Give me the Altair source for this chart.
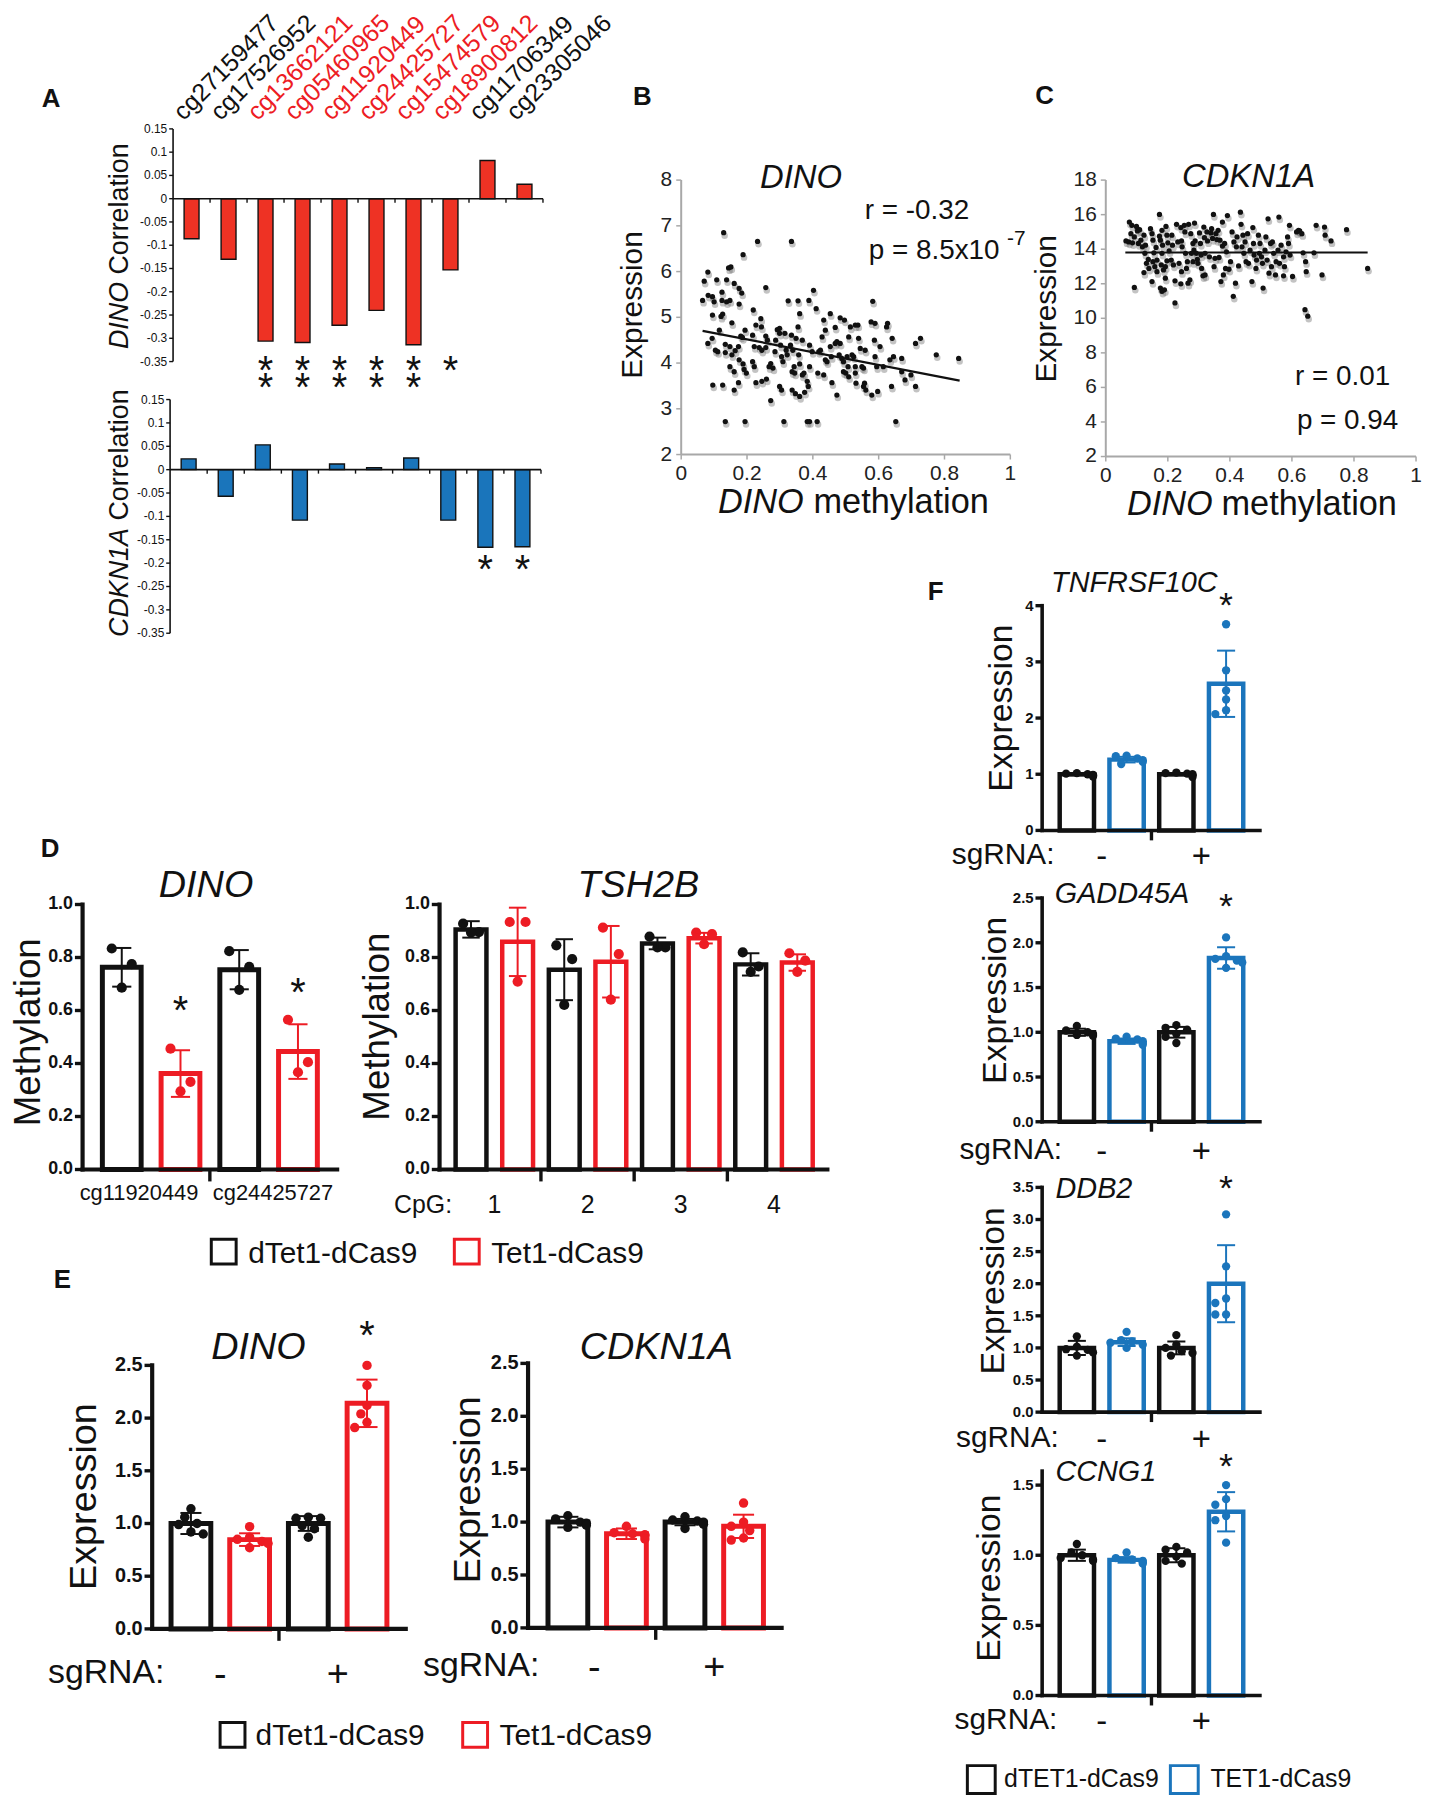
import altair as alt
import pandas as pd

# ------------------------------------------------------------------ canvas
W, H = 1422, 1792          # plot area (page minus 8px margin)
OX, OY = 8, 8              # page offset of the plot origin
SANS = "Liberation Sans, Arial, Helvetica, sans-serif"
INK = "#111111"
RED = "#ED1C24"
BLUE = "#1B75BC"
A_RED = "#EE3224"
A_BLUE = "#1A75BB"
GRAY_AX = "#A8A8A8"

# ------------------------------------------------------------------ data: panel A
probes = ["cg27159477", "cg17526952", "cg13662121", "cg05460965", "cg11920449",
          "cg24425727", "cg15474579", "cg18900812", "cg11706349", "cg23305046"]
probe_highlight = [False, False, True, True, True, True, True, True, False, False]
dino_corr = [-0.086, -0.130, -0.306, -0.309, -0.272, -0.240, -0.314, -0.153, 0.082, 0.031]
dino_corr_stars = [0, 0, 2, 2, 2, 2, 2, 1, 0, 0]
cdkn1a_corr = [0.023, -0.057, 0.053, -0.108, 0.012, 0.004, 0.025, -0.108, -0.166, -0.165]
cdkn1a_corr_stars = [0, 0, 0, 0, 0, 0, 0, 0, 1, 1]
corr_ticks = [0.15, 0.1, 0.05, 0, -0.05, -0.1, -0.15, -0.2, -0.25, -0.3, -0.35]

# ------------------------------------------------------------------ data: panel B (DINO methylation, DINO expression)
b_points = [
    (0.129, 6.85), (0.232, 6.66), (0.335, 6.66), (0.188, 6.37), (0.081, 5.99), (0.070, 5.79), (0.108, 5.82), (0.138, 5.82), (0.144, 6.08), (0.151, 6.10),
    (0.065, 5.37), (0.082, 5.48), (0.095, 5.45), (0.100, 5.34), (0.124, 5.55), (0.124, 5.37), (0.138, 5.34), (0.148, 5.37), (0.161, 5.74), (0.176, 5.63),
    (0.184, 5.53), (0.176, 5.29), (0.257, 5.65), (0.325, 5.36), (0.360, 5.08), (0.355, 5.36), (0.388, 5.37), (0.402, 5.59), (0.410, 5.19), (0.582, 5.35),
    (0.095, 5.05), (0.121, 5.02), (0.126, 5.07), (0.154, 4.88), (0.219, 5.16), (0.242, 4.97), (0.244, 4.79), (0.227, 4.83), (0.453, 5.08), (0.483, 4.99),
    (0.496, 4.94), (0.529, 4.83), (0.537, 4.83), (0.577, 4.90), (0.589, 4.87), (0.624, 4.79), (0.627, 4.87), (0.433, 4.94), (0.468, 4.78), (0.116, 4.72),
    (0.081, 4.43), (0.094, 4.54), (0.111, 4.25), (0.104, 4.28), (0.134, 4.41), (0.134, 4.23), (0.148, 4.36), (0.154, 4.18), (0.148, 3.92), (0.161, 3.81),
    (0.164, 4.27), (0.174, 4.36), (0.181, 4.59), (0.186, 4.56), (0.194, 4.72), (0.176, 4.07), (0.188, 3.98), (0.191, 3.86), (0.198, 3.78), (0.174, 3.57),
    (0.161, 3.41), (0.096, 3.52), (0.126, 3.52), (0.217, 4.61), (0.222, 4.36), (0.217, 4.03), (0.222, 3.92), (0.227, 3.57), (0.237, 4.34), (0.245, 4.28),
    (0.257, 4.59), (0.262, 4.50), (0.257, 4.34), (0.245, 3.60), (0.259, 3.65), (0.267, 3.92), (0.272, 3.99), (0.279, 3.89), (0.272, 3.18), (0.285, 4.25),
    (0.287, 4.50), (0.292, 4.73), (0.299, 4.76), (0.299, 4.65), (0.302, 4.39), (0.305, 4.14), (0.309, 4.03), (0.315, 4.65), (0.319, 4.28), (0.322, 4.18),
    (0.332, 4.39), (0.335, 4.61), (0.339, 4.28), (0.343, 3.92), (0.299, 3.49), (0.305, 3.41), (0.337, 3.81), (0.345, 3.78), (0.355, 4.79), (0.349, 4.54),
    (0.357, 4.18), (0.360, 3.98), (0.368, 3.74), (0.373, 3.78), (0.337, 3.41), (0.347, 3.33), (0.360, 3.27), (0.375, 3.36), (0.383, 3.60), (0.390, 3.92),
    (0.390, 4.39), (0.368, 4.50), (0.386, 3.49), (0.398, 4.25), (0.415, 3.78), (0.418, 4.25), (0.423, 4.28), (0.433, 3.74), (0.428, 4.57), (0.438, 4.72),
    (0.438, 4.07), (0.443, 4.03), (0.453, 4.36), (0.456, 4.14), (0.458, 3.57), (0.473, 3.30), (0.468, 4.43), (0.473, 4.47), (0.483, 4.43), (0.480, 4.18),
    (0.488, 4.10), (0.493, 4.03), (0.493, 3.81), (0.500, 3.78), (0.504, 4.14), (0.507, 3.92), (0.509, 3.70), (0.509, 4.57), (0.514, 4.79), (0.519, 4.18),
    (0.524, 4.14), (0.529, 3.92), (0.529, 3.78), (0.531, 3.56), (0.539, 4.54), (0.544, 4.32), (0.549, 3.92), (0.554, 3.89), (0.554, 3.49), (0.559, 4.28),
    (0.557, 3.56), (0.561, 3.41), (0.579, 3.30), (0.587, 4.50), (0.589, 4.14), (0.594, 3.92), (0.597, 3.38), (0.604, 4.36), (0.614, 3.92), (0.641, 4.54),
    (0.634, 4.07), (0.645, 4.14), (0.639, 3.49), (0.670, 4.10), (0.670, 3.81), (0.680, 3.63), (0.698, 3.74), (0.712, 3.49), (0.712, 4.43), (0.727, 4.54),
    (0.775, 4.18), (0.843, 4.10), (0.134, 2.72), (0.194, 2.72), (0.312, 2.72), (0.383, 2.72), (0.390, 2.72), (0.413, 2.72), (0.652, 2.72),
]
b_fit_x = [0.065, 0.846]
b_fit_y = [4.705, 3.617]
b_xticks = [0, 0.2, 0.4, 0.6, 0.8, 1]
b_yticks = [2, 3, 4, 5, 6, 7, 8]

# ------------------------------------------------------------------ data: panel C (DINO methylation, CDKN1A expression)
c_points = [
    (0.065, 14.48), (0.076, 15.57), (0.084, 15.38), (0.081, 14.90), (0.074, 14.42), (0.086, 14.37), (0.092, 14.71), (0.099, 15.32), (0.102, 15.06), (0.109, 15.13),
    (0.092, 11.79), (0.105, 14.33), (0.113, 14.52), (0.118, 14.14), (0.123, 14.81), (0.128, 14.23), (0.126, 13.76), (0.131, 13.18), (0.137, 13.41), (0.123, 12.65),
    (0.144, 15.19), (0.149, 14.90), (0.152, 14.52), (0.139, 12.89), (0.152, 13.28), (0.158, 12.99), (0.155, 13.79), (0.162, 14.10), (0.165, 13.37), (0.165, 12.70),
    (0.149, 12.13), (0.173, 14.75), (0.176, 14.52), (0.173, 16.01), (0.181, 15.09), (0.183, 14.23), (0.181, 13.76), (0.179, 13.09), (0.186, 12.80), (0.176, 11.75),
    (0.189, 11.65), (0.181, 11.56), (0.192, 12.32), (0.194, 15.32), (0.197, 14.81), (0.200, 14.37), (0.204, 13.91), (0.197, 13.33), (0.192, 12.99), (0.213, 14.81),
    (0.215, 14.23), (0.211, 13.37), (0.218, 13.09), (0.223, 10.89), (0.228, 15.44), (0.232, 14.42), (0.236, 13.18), (0.223, 12.17), (0.242, 15.25), (0.244, 14.48),
    (0.246, 14.14), (0.244, 12.70), (0.242, 12.00), (0.253, 15.38), (0.255, 15.00), (0.257, 13.76), (0.263, 13.28), (0.260, 12.89), (0.265, 12.03), (0.267, 15.44),
    (0.274, 14.90), (0.276, 13.76), (0.281, 14.33), (0.284, 13.95), (0.281, 13.28), (0.271, 12.23), (0.286, 15.51), (0.288, 14.48), (0.292, 13.76), (0.295, 13.41),
    (0.297, 13.18), (0.302, 14.94), (0.305, 14.33), (0.307, 13.66), (0.309, 12.89), (0.316, 15.28), (0.318, 14.67), (0.320, 13.76), (0.313, 12.46), (0.320, 12.51),
    (0.326, 15.00), (0.328, 14.48), (0.334, 13.56), (0.339, 14.94), (0.341, 15.19), (0.344, 14.62), (0.347, 16.01), (0.349, 12.99), (0.352, 13.47), (0.355, 14.90),
    (0.358, 14.56), (0.362, 15.09), (0.365, 13.52), (0.368, 14.52), (0.371, 12.13), (0.376, 14.18), (0.376, 15.57), (0.379, 12.51), (0.383, 14.33), (0.386, 12.89),
    (0.389, 13.85), (0.392, 15.95), (0.397, 12.84), (0.402, 13.28), (0.407, 15.00), (0.413, 14.42), (0.411, 11.27), (0.418, 12.03), (0.421, 14.14), (0.423, 14.71),
    (0.428, 13.03), (0.434, 16.14), (0.436, 15.44), (0.439, 14.14), (0.442, 14.81), (0.445, 13.76), (0.449, 14.42), (0.452, 13.28), (0.457, 14.90), (0.460, 13.18),
    (0.465, 13.95), (0.471, 12.13), (0.474, 15.25), (0.476, 14.33), (0.478, 13.66), (0.484, 12.89), (0.486, 13.37), (0.492, 14.81), (0.495, 13.76), (0.497, 14.33),
    (0.502, 13.56), (0.505, 13.18), (0.507, 11.75), (0.513, 13.95), (0.516, 14.71), (0.520, 13.37), (0.523, 15.76), (0.526, 12.61), (0.531, 14.33), (0.534, 12.99),
    (0.537, 14.42), (0.541, 13.76), (0.547, 12.51), (0.549, 13.28), (0.555, 13.95), (0.558, 15.86), (0.560, 13.18), (0.565, 14.23), (0.573, 13.56), (0.576, 12.99),
    (0.581, 13.85), (0.586, 14.71), (0.589, 14.33), (0.592, 15.38), (0.594, 13.66), (0.573, 12.46), (0.602, 12.42), (0.615, 15.00), (0.621, 15.09), (0.625, 15.06),
    (0.632, 14.90), (0.636, 13.79), (0.644, 13.28), (0.646, 12.70), (0.642, 10.50), (0.651, 10.12), (0.671, 13.79), (0.678, 15.38), (0.697, 12.51), (0.705, 15.28),
    (0.707, 14.81), (0.726, 14.48), (0.776, 15.13), (0.844, 12.89),
]
c_fit_x = [0.063, 0.844]
c_fit_y = [13.81, 13.81]
c_yticks = [2, 4, 6, 8, 10, 12, 14, 16, 18]

# ------------------------------------------------------------------ data: panel D (methylation)
d_dino_sites = ["cg11920449", "cg24425727"]
d_dino_cond = ["dTet1-dCas9", "Tet1-dCas9", "dTet1-dCas9", "Tet1-dCas9"]
d_dino_mean = [0.763, 0.362, 0.754, 0.445]
d_dino_sd = [0.073, 0.088, 0.074, 0.103]
d_dino_dots = [[0.834, 0.775, 0.686], [0.456, 0.331, 0.295], [0.824, 0.765, 0.678], [0.565, 0.405, 0.367]]

d_tsh_cpg = ["1", "2", "3", "4"]
d_tsh_cond = ["dTet1-dCas9", "Tet1-dCas9"] * 4
d_tsh_mean = [0.906, 0.859, 0.754, 0.784, 0.853, 0.873, 0.774, 0.781]
d_tsh_sd = [0.031, 0.129, 0.115, 0.135, 0.022, 0.020, 0.042, 0.031]
d_tsh_dots = [[0.928, 0.896, 0.894], [0.934, 0.934, 0.709], [0.846, 0.794, 0.621], [0.913, 0.813, 0.641],
              [0.879, 0.838, 0.838], [0.894, 0.888, 0.850], [0.819, 0.766, 0.746], [0.816, 0.788, 0.746]]
d_yticks = [0, 0.2, 0.4, 0.6, 0.8, 1.0]

# ------------------------------------------------------------------ data: panel E (expression)
sgrna = ["-", "+"]
e_cond = ["dTet1-dCas9", "Tet1-dCas9", "dTet1-dCas9", "Tet1-dCas9"]
e_dino_mean = [1.0, 0.847, 1.0, 2.14]
e_dino_sd = [0.10, 0.06, 0.07, 0.225]
e_dino_dots = [[1.14, 1.06, 1.00, 0.99, 0.92, 0.90], [0.97, 0.87, 0.85, 0.83, 0.81, 0.77],
               [1.06, 1.05, 1.05, 0.98, 0.95, 0.87], [2.50, 2.31, 2.12, 2.04, 1.96, 1.91]]
e_cdk_mean = [1.0, 0.89, 1.0, 0.96]
e_cdk_sd = [0.05, 0.05, 0.03, 0.11]
e_cdk_dots = [[1.06, 1.03, 1.00, 0.99, 0.97, 0.95], [0.96, 0.90, 0.89, 0.88, 0.87, 0.84],
              [1.05, 1.02, 1.01, 1.00, 0.98, 0.94], [1.18, 1.00, 0.96, 0.92, 0.85, 0.83]]
e_yticks = [0, 0.5, 1.0, 1.5, 2.0, 2.5]

# ------------------------------------------------------------------ data: panel F (expression)
f_cond = ["dTET1-dCas9", "TET1-dCas9", "dTET1-dCas9", "TET1-dCas9"]
f_genes = ["TNFRSF10C", "GADD45A", "DDB2", "CCNG1"]
f_mean = [[1.0, 1.26, 1.0, 2.61], [1.0, 0.90, 1.0, 1.83], [1.0, 1.09, 1.0, 2.0], [1.0, 0.967, 1.0, 1.31]]
f_sd = [[0.02, 0.05, 0.02, 0.59], [0.04, 0.03, 0.06, 0.12], [0.11, 0.06, 0.10, 0.60], [0.04, 0.02, 0.05, 0.14]]
f_dots = [
    [[1.02, 1.01, 1.00, 0.99, 0.98, 0.96], [1.33, 1.32, 1.28, 1.25, 1.22, 1.18],
     [1.03, 1.02, 1.01, 1.00, 0.98, 0.95], [3.67, 2.85, 2.49, 2.33, 2.14, 2.07]],
    [[1.07, 1.02, 1.00, 0.98, 0.97, 0.96], [0.95, 0.93, 0.92, 0.90, 0.88, 0.86],
     [1.08, 1.05, 1.03, 0.98, 0.95, 0.88], [2.06, 1.85, 1.82, 1.80, 1.78, 1.72]],
    [[1.18, 1.02, 0.98, 0.97, 0.93, 0.88], [1.25, 1.12, 1.10, 1.08, 1.05, 1.00],
     [1.20, 1.05, 1.00, 0.95, 0.92, 0.88], [3.08, 2.27, 1.77, 1.70, 1.52, 1.52]],
    [[1.08, 1.02, 1.00, 0.98, 0.97, 0.96], [1.02, 0.98, 0.97, 0.96, 0.95, 0.94],
     [1.06, 1.04, 1.02, 0.99, 0.96, 0.94], [1.50, 1.40, 1.36, 1.28, 1.25, 1.09]],
]
f_yticks = [[0, 1, 2, 3, 4], [0, 0.5, 1.0, 1.5, 2.0, 2.5], [0, 0.5, 1.0, 1.5, 2.0, 2.5, 3.0, 3.5], [0, 0.5, 1.0, 1.5]]

COND_COLOR = {"dTet1-dCas9": INK, "Tet1-dCas9": RED, "dTET1-dCas9": INK, "TET1-dCas9": BLUE}

# ------------------------------------------------------------------ layout: scale domains and page-pixel ranges
G = {
    "A1": ([0, 10], [169, 551], [-0.35, 0.15], [358.5, 124.5]),
    "A2": ([0, 10], [166, 549], [-0.35, 0.15], [631.7, 396.7]),
    "B": ([0, 1], [685, 1016], [2, 8], [452, 176]),
    "C": ([0, 1], [1112, 1424], [2, 18], [454, 176]),
    "D1": ([-0.667, 3.667], [78, 344], [0, 1], [1171, 904.5]),
    "D2": ([-0.675, 7.645], [437, 837], [0, 1], [1171, 904.5]),
    "E1": ([-0.66, 3.66], [148, 413], [0, 2.5], [1633, 1368]),
    "E2": ([-0.68, 3.65], [526, 791], [0, 2.5], [1632, 1366]),
    "F1": ([-0.6975, 3.68], [1043, 1272], [0, 4], [830, 604]),
    "F2": ([-0.6975, 3.68], [1043, 1272], [0, 2.5], [1123, 898]),
    "F3": ([-0.6975, 3.68], [1043, 1272], [0, 3.5], [1415, 1189]),
    "F4": ([-0.6975, 3.68], [1043, 1272], [0, 1.6], [1700, 1474.3]),
}


def xs(p):
    xd, xr, yd, yr = G[p]
    return alt.Scale(domain=xd, range=[xr[0] - OX, xr[1] - OX], nice=False, zero=False)


def ys(p):
    xd, xr, yd, yr = G[p]
    return alt.Scale(domain=yd, range=[yr[0] - OY, yr[1] - OY], nice=False, zero=False)


def ppu(p):
    xd, xr, yd, yr = G[p]
    return (xr[1] - xr[0]) / (xd[1] - xd[0]), abs(yr[0] - yr[1]) / (yd[1] - yd[0])


def XQ(p, f):
    return alt.X(f, scale=xs(p), axis=None)


def YQ(p, f):
    return alt.Y(f, scale=ys(p), axis=None)


def tl(p, rows, **props):
    df = pd.DataFrame(rows, columns=["x", "y", "t"])
    mp = dict(font=SANS, color=INK, baseline="alphabetic", align="center")
    mp.update(props)
    return alt.Chart(df).mark_text(**mp).encode(x=XQ(p, "x:Q"), y=YQ(p, "y:Q"), text="t:N")


def stars(p, rows, size=40):
    # rows give the glyph centre of each asterisk
    return tl(p, rows, fontSize=size, dy=round(0.58 * size))


# ------------------------------------------------------------------ axes drawn from tick arrays through the panel scales
def axis_layers(p, st, yvals, ylabs, xvals=(), xlabs=None, base=None, xtick=None):
    xd, xr, yd, yr = G[p]
    ppx, ppy = ppu(p)
    base = yd[0] if base is None else base
    x0 = xd[0]
    xtick = st["tick"] if xtick is None else xtick
    lay = []
    ydom = pd.DataFrame({"x": [x0], "y": [yd[0]], "y2": [yd[1]]})
    xdom = pd.DataFrame({"x": [xd[0]], "x2": [xd[1]], "y": [base]})
    lay.append(alt.Chart(ydom).mark_rule(color=st["color"], strokeWidth=st["width"], strokeCap=st["cap"]).encode(
        x=XQ(p, "x:Q"), y=YQ(p, "y:Q"), y2="y2:Q"))
    lay.append(alt.Chart(xdom).mark_rule(color=st["color"], strokeWidth=st["width"], strokeCap=st["cap"]).encode(
        x=XQ(p, "x:Q"), x2="x2:Q", y=YQ(p, "y:Q")))
    yt = pd.DataFrame({"x": [x0] * len(yvals), "x2": [x0 - st["tick"] / ppx] * len(yvals), "y": list(yvals)})
    lay.append(alt.Chart(yt).mark_rule(color=st["color"], strokeWidth=st["twidth"]).encode(
        x=XQ(p, "x:Q"), x2="x2:Q", y=YQ(p, "y:Q")))
    yl = pd.DataFrame({"x": [x0 - (st["tick"] + st["pad"]) / ppx] * len(yvals), "y": list(yvals), "t": ylabs})
    lay.append(alt.Chart(yl).mark_text(align="right", baseline="middle", font=SANS, fontSize=st["fs"],
                                       fontWeight=st["fw"], color=st["lc"]).encode(
        x=XQ(p, "x:Q"), y=YQ(p, "y:Q"), text="t:N"))
    if len(xvals):
        xt = pd.DataFrame({"x": list(xvals), "y": [base] * len(xvals), "y2": [base - xtick / ppy] * len(xvals)})
        lay.append(alt.Chart(xt).mark_rule(color=st["color"], strokeWidth=st["twidth"]).encode(
            x=XQ(p, "x:Q"), y=YQ(p, "y:Q"), y2="y2:Q"))
    if xlabs is not None:
        xl = pd.DataFrame({"x": list(xvals), "y": [base - (xtick + st["pad"]) / ppy] * len(xvals), "t": xlabs})
        lay.append(alt.Chart(xl).mark_text(align="center", baseline="top", font=SANS, fontSize=st["fs"],
                                           fontWeight=st["fw"], color=st["lc"]).encode(
            x=XQ(p, "x:Q"), y=YQ(p, "y:Q"), text="t:N"))
    return lay


ST_A = dict(color=INK, width=1.6, twidth=1.4, tick=4, pad=2, fs=12, fw="normal", lc=INK, cap="butt")
ST_S = dict(color=GRAY_AX, width=2, twidth=1.5, tick=5, pad=4, fs=21, fw="normal", lc="#222222", cap="butt")


def st_bar(fs, width=4.2, tick=8):
    return dict(color=INK, width=width, twidth=3.4, tick=tick, pad=2, fs=fs, fw="bold", lc=INK, cap="square")


def fmt1(v):
    return "%.1f" % v


# ------------------------------------------------------------------ bar + dot panels
def swarm_offsets(vals, ppx, ppy, diam):
    order = sorted(range(len(vals)), key=lambda i: -vals[i])
    placed, offs = [], [0.0] * len(vals)
    for i in order:
        yp = vals[i] * ppy
        xp = 0.0
        for k in [0, -1, 1, -2, 2, -3, 3]:
            xp = k * diam * 0.6
            if all((xp - a) ** 2 + (yp - b) ** 2 >= (0.9 * diam) ** 2 for a, b in placed):
                break
        placed.append((xp, yp))
        offs[i] = xp / ppx
    return offs


def bar_layers(p, means, sds, dots, conds, bar_w, stroke_w, dot_size, cap_px, mode):
    ppx, ppy = ppu(p)
    n = len(means)
    cols = [COND_COLOR[c] for c in conds]
    bars = pd.DataFrame({"pos": list(range(n)), "m": means,
                         "lo": [m - s for m, s in zip(means, sds)],
                         "hi": [m + s for m, s in zip(means, sds)], "col": cols})
    hw = cap_px / 2 / ppx
    bars["cl"] = bars["pos"] - hw
    bars["cr"] = bars["pos"] + hw
    rows = []
    diam = (dot_size / 3.1416) ** 0.5 * 2
    for i, vals in enumerate(dots):
        if mode == "three":
            order = sorted(range(len(vals)), key=lambda k: -vals[k])
            pattern = [-0.17, 0.17, 0.0]
            offs = [0.0] * len(vals)
            for r, k in enumerate(order):
                offs[k] = pattern[r % 3]
        else:
            offs = swarm_offsets(vals, ppx, ppy, diam)
        for v, o in zip(vals, offs):
            rows.append({"xp": i + o, "v": v, "col": cols[i]})
    dd = pd.DataFrame(rows)
    colr = alt.Color("col:N", scale=None)
    bar = alt.Chart(bars).mark_bar(width=bar_w, fill="white", strokeWidth=stroke_w, orient="vertical").encode(
        x=XQ(p, "pos:Q"), y=YQ(p, "m:Q"), y2=alt.datum(0), stroke=alt.Stroke("col:N", scale=None))
    dot = alt.Chart(dd).mark_circle(size=dot_size, opacity=1).encode(x=XQ(p, "xp:Q"), y=YQ(p, "v:Q"), color=colr)
    err = alt.Chart(bars).mark_rule(strokeWidth=2).encode(x=XQ(p, "pos:Q"), y=YQ(p, "lo:Q"), y2="hi:Q", color=colr)
    cap_hi = alt.Chart(bars).mark_rule(strokeWidth=2).encode(x=XQ(p, "cl:Q"), x2="cr:Q", y=YQ(p, "hi:Q"), color=colr)
    cap_lo = alt.Chart(bars).mark_rule(strokeWidth=2).encode(x=XQ(p, "cl:Q"), x2="cr:Q", y=YQ(p, "lo:Q"), color=colr)
    return [bar, dot, err, cap_hi, cap_lo]


def legend_layers(p, boxes, texts, colors, box_size, font_size):
    bdf = pd.DataFrame({"x": [b[0] for b in boxes], "y": [b[1] for b in boxes], "col": colors})
    box = alt.Chart(bdf).mark_point(shape="square", filled=False, size=box_size ** 2, strokeWidth=3, opacity=1).encode(
        x=XQ(p, "x:Q"), y=YQ(p, "y:Q"), color=alt.Color("col:N", scale=None))
    return [box, tl(p, texts, fontSize=font_size, align="left")]


# ================================================================== Panel A
def corr_panel(p, vals, star_counts, fill, star_y):
    df = pd.DataFrame({"pos": [i + 0.5 for i in range(len(vals))], "v": vals})
    bar = alt.Chart(df).mark_bar(width=15, fill=fill, stroke=INK, strokeWidth=1.4, orient="vertical").encode(
        x=XQ(p, "pos:Q"), y=YQ(p, "v:Q"), y2=alt.datum(0))
    lay = [bar]
    lay += axis_layers(p, ST_A, corr_ticks, [str(v) for v in corr_ticks],
                       xvals=list(range(1, 11)), base=0)
    srows = []
    for i, s in enumerate(star_counts):
        for k in range(s):
            srows.append((i + 0.5, star_y[k], "*"))
    if srows:
        lay.append(stars(p, srows))
    return lay


# glyph centres of asterisk rows (data units)
a1 = corr_panel("A1", dino_corr, dino_corr_stars, A_RED, [-0.349, -0.385])
lab_red = [(i + 0.28, 0.166, t) for i, (t, h) in enumerate(zip(probes, probe_highlight)) if h]
lab_blk = [(i + 0.28, 0.166, t) for i, (t, h) in enumerate(zip(probes, probe_highlight)) if not h]
a1 += [
    tl("A1", lab_red, fontSize=25, angle=315, align="left", color=RED),
    tl("A1", lab_blk, fontSize=25, angle=315, align="left"),
    tl("A1", [(-1.44, -0.323, "DINO")], fontSize=27, angle=270, align="left", baseline="middle", fontStyle="italic"),
    tl("A1", [(-1.44, -0.163, "Correlation")], fontSize=27, angle=270, align="left", baseline="middle"),
    tl("A1", [(-3.30, 0.198, "A")], fontSize=26, fontWeight="bold"),
]
a2 = corr_panel("A2", cdkn1a_corr, cdkn1a_corr_stars, A_BLUE, [-0.193])
a2 += [
    tl("A2", [(-1.358, -0.358, "CDKN1A")], fontSize=27, angle=270, align="left", baseline="middle", fontStyle="italic"),
    tl("A2", [(-1.358, -0.109, "Correlation")], fontSize=27, angle=270, align="left", baseline="middle"),
]


# ================================================================== Panels B and C
def scatter_panel(p, pts, fx, fy, yvals):
    df = pd.DataFrame(pts, columns=["m", "e"])
    lay = axis_layers(p, ST_S, yvals, [str(v) for v in yvals], xvals=b_xticks, xlabs=[str(v) for v in b_xticks])
    shadow = alt.Chart(df).mark_circle(size=42, color="#6a6a6a", opacity=0.4, yOffset=3, xOffset=1).encode(
        x=XQ(p, "m:Q"), y=YQ(p, "e:Q"))
    dots = alt.Chart(df).mark_circle(size=28, color=INK, opacity=1).encode(x=XQ(p, "m:Q"), y=YQ(p, "e:Q"))
    fit = alt.Chart(pd.DataFrame({"m": fx, "e": fy})).mark_line(color=INK, strokeWidth=2.2).encode(
        x=XQ(p, "m:Q"), y=YQ(p, "e:Q"))
    return lay + [shadow, dots, fit]


pb = scatter_panel("B", b_points, b_fit_x, b_fit_y, b_yticks)
pb += [
    tl("B", [(-0.118, 9.646, "B")], fontSize=26, fontWeight="bold"),
    tl("B", [(0.364, 7.83, "DINO")], fontSize=33, fontStyle="italic"),
    tl("B", [(0.558, 7.15, "r = -0.32"), (0.570, 6.27, "p = 8.5x10")], fontSize=28, align="left"),
    tl("B", [(0.99, 6.58, "-7")], fontSize=21, align="left"),
    tl("B", [(0.112, 0.722, "DINO")], fontSize=34.5, align="left", fontStyle="italic"),
    tl("B", [(0.402, 0.722, "methylation")], fontSize=34.5, align="left"),
    tl("B", [(-0.1455, 5.27, "Expression")], fontSize=30, angle=270, baseline="middle"),
]
pc = scatter_panel("C", c_points, c_fit_x, c_fit_y, c_yticks)
pc += [
    tl("C", [(-0.197, 22.39, "C")], fontSize=26, fontWeight="bold"),
    tl("C", [(0.46, 17.6, "CDKN1A")], fontSize=33, fontStyle="italic"),
    tl("C", [(0.61, 6.15, "r = 0.01"), (0.616, 3.6, "p = 0.94")], fontSize=28, align="left"),
    tl("C", [(0.068, -1.41, "DINO")], fontSize=34.5, align="left", fontStyle="italic"),
    tl("C", [(0.373, -1.41, "methylation")], fontSize=34.5, align="left"),
    tl("C", [(-0.19, 10.55, "Expression")], fontSize=30, angle=270, baseline="middle"),
]

# ================================================================== Panel D
d1 = bar_layers("D1", d_dino_mean, d_dino_sd, d_dino_dots, d_dino_cond, 39, 5, 105, 20, "three")
d1 += axis_layers("D1", st_bar(18), d_yticks, [fmt1(v) for v in d_yticks], xvals=[1.5], xtick=12)
d1 += [
    stars("D1", [(1, 0.634, "*"), (3, 0.705, "*")]),
    tl("D1", [(0.294, -0.116, d_dino_sites[0]), (2.575, -0.116, d_dino_sites[1])], fontSize=22),
    tl("D1", [(1.435, 1.028, "DINO")], fontSize=38, fontStyle="italic"),
    tl("D1", [(-1.58, 0.518, "Methylation")], fontSize=37, angle=270, baseline="middle"),
    tl("D1", [(-1.221, 1.178, "D")], fontSize=26, fontWeight="bold"),
]
d1 += legend_layers("D1", [(1.736, -0.31), (5.874, -0.31)],
                    [(2.152, -0.353, "dTet1-dCas9"), (6.29, -0.353, "Tet1-dCas9")], [INK, RED], 25, 30)
d2 = bar_layers("D2", d_tsh_mean, d_tsh_sd, d_tsh_dots, d_tsh_cond, 31, 4.5, 105, 18, "three")
d2 += axis_layers("D2", st_bar(18), d_yticks, [fmt1(v) for v in d_yticks], xvals=[1.5, 3.5, 5.5], xtick=12)
d2 += [
    tl("D2", [(3.589, 1.028, "TSH2B")], fontSize=38, fontStyle="italic"),
    tl("D2", [(-1.985, 0.539, "Methylation")], fontSize=37, angle=270, baseline="middle"),
    tl("D2", [(-1.029, -0.165, "CpG:")] + [(0.5 + 2 * i, -0.165, c) for i, c in enumerate(d_tsh_cpg)], fontSize=25),
]

# ================================================================== Panel E
e1 = bar_layers("E1", e_dino_mean, e_dino_sd, e_dino_dots, e_cond, 40, 5, 90, 22, "swarm")
e1 += axis_layers("E1", st_bar(20), e_yticks, [fmt1(v) for v in e_yticks], xvals=[1.5], xtick=12)
e1 += [
    stars("E1", [(3, 2.877, "*")]),
    tl("E1", [(1.15, 2.559, "DINO")], fontSize=38, fontStyle="italic"),
    tl("E1", [(-1.801, 1.255, "Expression")], fontSize=38, angle=270, baseline="middle"),
    tl("E1", [(-1.443, -0.509, "sgRNA:")], fontSize=34),
    tl("E1", [(0.5, -0.538, sgrna[0]), (2.5, -0.538, sgrna[1])], fontSize=38),
    tl("E1", [(-2.192, 3.236, "E")], fontSize=26, fontWeight="bold"),
]
e1 += legend_layers("E1", [(0.709, -1.005), (4.842, -1.005)],
                    [(1.101, -1.104, "dTet1-dCas9"), (5.258, -1.104, "Tet1-dCas9")], [INK, RED], 25, 30)
e2 = bar_layers("E2", e_cdk_mean, e_cdk_sd, e_cdk_dots, e_cond, 40, 5, 90, 22, "swarm")
e2 += axis_layers("E2", st_bar(20), e_yticks, [fmt1(v) for v in e_yticks], xvals=[1.5], xtick=12)
e2 += [
    tl("E2", [(1.51, 2.54, "CDKN1A")], fontSize=38, fontStyle="italic"),
    tl("E2", [(-1.693, 1.306, "Expression")], fontSize=38, angle=270, baseline="middle"),
    tl("E2", [(-1.48, -0.451, "sgRNA:")], fontSize=34),
    tl("E2", [(0.45, -0.479, sgrna[0]), (2.5, -0.479, sgrna[1])], fontSize=38),
]

# ================================================================== Panel F
F_TXT = [  # title (x, y), star centre y, y-title (x, y), sgRNA (x, y), +/- y
    ((1.156, 4.248), 4.177, (-1.50, 2.177), (-1.481, -0.602), -0.655),
    ((0.908, 2.444), 2.511, (-1.634, 1.356), (-1.328, -0.411), -0.444),
    ((0.344, 3.33), 3.624, (-1.672, 1.889), (-1.395, -0.542), -0.589),
    ((0.583, 1.531), 1.701, (-1.749, 0.837), (-1.424, -0.241), -0.262),
]
f_panels = []
for k in range(4):
    p = "F%d" % (k + 1)
    lay = bar_layers(p, f_mean[k], f_sd[k], f_dots[k], f_cond, 34.5, 4.5, 70, 19, "swarm")
    labs = [str(v) for v in f_yticks[k]] if k == 0 else [fmt1(v) for v in f_yticks[k]]
    lay += axis_layers(p, st_bar(15, width=3.6, tick=7), f_yticks[k], labs, xvals=[1.5], xtick=10)
    (tx, ty), sy, (yx, yy), (gx, gy), pmy = F_TXT[k]
    lay += [
        stars(p, [(3, sy, "*")], size=36),
        tl(p, [(tx, ty, f_genes[k])], fontSize=29, fontStyle="italic"),
        tl(p, [(yx, yy, "Expression")], fontSize=34, angle=270, baseline="middle"),
        tl(p, [(gx, gy, "sgRNA:")], fontSize=30),
        tl(p, [(0.5, pmy, sgrna[0]), (2.5, pmy, sgrna[1])], fontSize=33),
    ]
    if k == 0:
        lay.append(tl(p, [(-2.838, 4.106, "F")], fontSize=26, fontWeight="bold"))
    if k == 3:
        lay += legend_layers(p, [(-1.921, -0.599), (2.16, -0.599)],
                             [(-1.462, -0.652, "dTET1-dCas9"), (2.685, -0.652, "TET1-dCas9")], [INK, BLUE], 28, 25)
    f_panels.append(alt.layer(*lay))

# ================================================================== assemble
panels = [alt.layer(*a1), alt.layer(*a2), alt.layer(*pb), alt.layer(*pc),
          alt.layer(*d1), alt.layer(*d2), alt.layer(*e1), alt.layer(*e2)] + f_panels

chart = (
    alt.layer(*panels)
    .resolve_scale(x="independent", y="independent")
    .properties(width=W, height=H, padding=0, autosize=alt.AutoSizeParams(type="none"))
    .configure_view(stroke=None)
)

chart.save("out.html", embed_options={"renderer": "svg", "actions": False})
